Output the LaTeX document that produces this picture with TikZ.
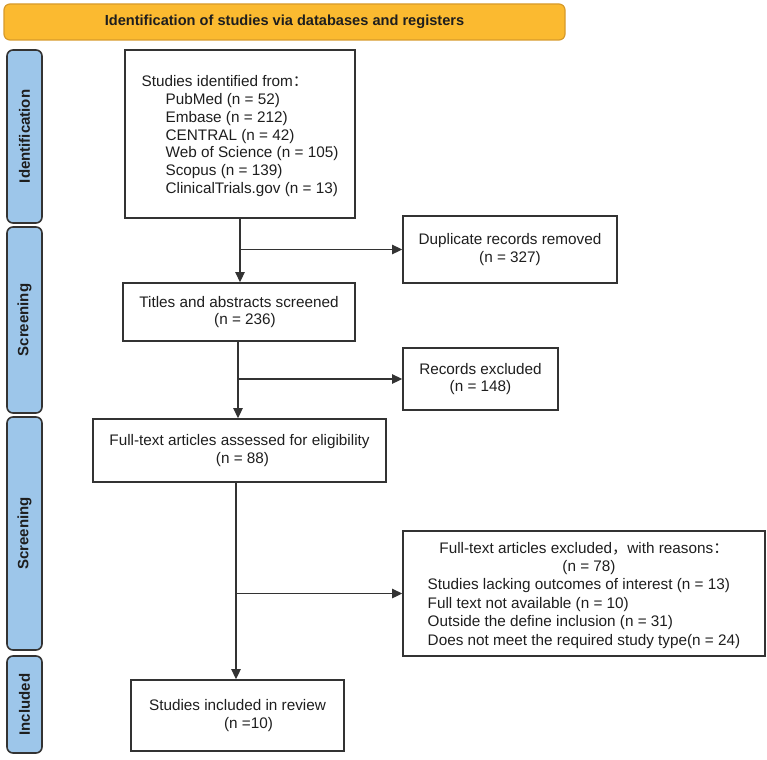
\documentclass[tikz,border=0pt]{standalone}
\usepackage{fontspec}
\setmainfont{Liberation Sans}
\newfontfamily\cjk{Noto Sans CJK SC}
\usetikzlibrary{arrows.meta}
\definecolor{hdrfill}{HTML}{FBBA30}
\definecolor{hdrdraw}{HTML}{D79A2A}
\definecolor{sidefill}{HTML}{9DC6EA}
\definecolor{linecol}{HTML}{333333}
\definecolor{txtcol}{HTML}{1E1E1E}
\tikzset{
  flowbox/.style={draw=linecol, line width=1.8pt, inner sep=0pt, text=txtcol,
    font=\fontsize{15.3}{17.8}\selectfont, align=center},
  sidebox/.style={draw=linecol, line width=1.6pt, fill=sidefill, rounded corners=6pt,
    inner sep=0pt, rotate=90, text=txtcol, font=\bfseries\fontsize{15}{17}\selectfont},
  conn/.style={draw=linecol, line width=1.3pt},
  arr/.style={conn, -{Triangle[length=10pt,width=9.5pt]}}
}
\begin{document}
\begin{tikzpicture}[x=1pt,y=-1pt]
\useasboundingbox (0,0) rectangle (767,759);
% header
\node[draw=hdrdraw, line width=1.2pt, fill=hdrfill, rounded corners=6pt, inner sep=0pt,
  minimum width=561pt, minimum height=36pt, text=txtcol,
  font=\bfseries\fontsize{14.6}{17}\selectfont] (hdr) at (284.5,22)
  {Identification of studies via databases and registers};
% side labels
\node[sidebox, minimum width=173pt, minimum height=35pt] (sident) at (24.5,136.5) {Identification};
\node[sidebox, minimum width=186pt, minimum height=35pt] (sscr1) at (24.5,320) {Screening};
\node[sidebox, minimum width=233pt, minimum height=35pt] (sscr2) at (24.5,533.5) {Screening};
\node[sidebox, minimum width=97pt, minimum height=35pt] (sincl) at (24.5,704.5) {Included};
% boxes
\node[flowbox, minimum width=230pt, minimum height=168pt] (box1) at (240,134)
  {\raisebox{-2.5pt}[\height][\depth]{\begin{tabular}{@{}l@{}}
   Studies identified from{\cjk ：}\\
   \hspace*{24pt}PubMed (n = 52)\\
   \hspace*{24pt}Embase (n = 212)\\
   \hspace*{24pt}CENTRAL (n = 42)\\
   \hspace*{24pt}Web of Science (n = 105)\\
   \hspace*{24pt}Scopus (n = 139)\\
   \hspace*{24pt}ClinicalTrials.gov (n = 13)
   \end{tabular}}};
\node[flowbox, minimum width=214pt, minimum height=67pt] (dup) at (510,249.5)
  {Duplicate records removed\\(n = 327)};
\node[flowbox, minimum width=232pt, minimum height=58pt] (box2) at (239,312)
  {Titles and abstracts screened\\\hspace*{12pt}(n = 236)};
\node[flowbox, minimum width=155pt, minimum height=62pt] (rec) at (480.5,379)
  {Records excluded\\(n = 148)};
\node[flowbox, minimum width=293pt, minimum height=63pt] (box3) at (239.5,450.5)
  {Full-text articles assessed for eligibility\\\hspace*{6pt}(n = 88)};
\node[flowbox, minimum width=362pt, minimum height=125pt] (box5) at (584,593.5)
  {\fontsize{15.3}{18.4}\selectfont
   \raisebox{-2pt}[\height][\depth]{\begin{tabular}{@{}l@{}}
   \multicolumn{1}{@{}c@{}}{Full-text articles excluded{\cjk ，}with reasons{\cjk ：}}\\
   \multicolumn{1}{@{}c@{}}{\hspace*{10pt}(n = 78)}\\
   Studies lacking outcomes of interest (n = 13)\\
   Full text not available (n = 10)\\
   Outside the define inclusion (n = 31)\\
   Does not meet the required study type(n = 24)
   \end{tabular}}};
\node[flowbox, minimum width=213pt, minimum height=71pt] (box4) at (237.5,715.5)
  {Studies included in review\\\hspace*{22pt}(n =10)};
% connectors
\coordinate (b1) at (box1.south);
\coordinate (j1) at (b1 |- dup.west);
\draw[arr] (b1) -- (b1 |- box2.north);
\draw[arr] (j1) -- (dup.west);
\coordinate (b2) at ([xshift=-1pt]box2.south);
\coordinate (j2) at (b2 |- rec.west);
\draw[arr] (b2) -- (b2 |- box3.north);
\draw[arr] (j2) -- (rec.west);
\coordinate (b3) at ([xshift=-3.5pt]box3.south);
\coordinate (j3) at (b3 |- box5.west);
\draw[arr] (b3) -- (b3 |- box4.north);
\draw[arr] (j3) -- (box5.west);
\end{tikzpicture}
\end{document}
